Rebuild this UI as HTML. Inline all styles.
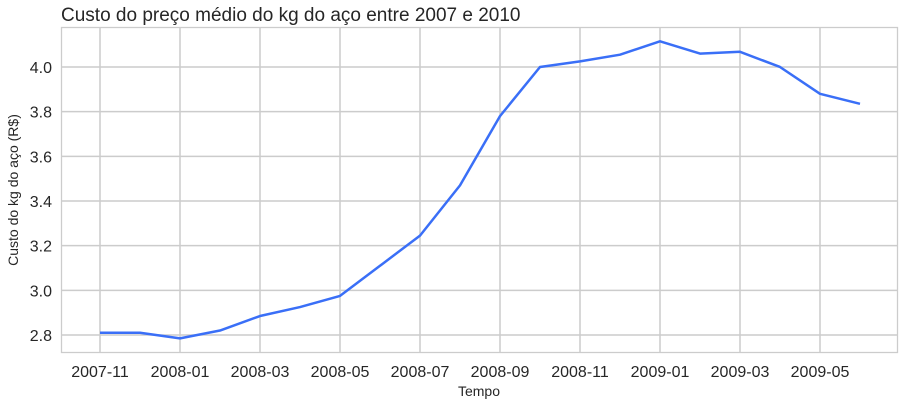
<!DOCTYPE html>
<html><head><meta charset="utf-8"><style>
body{margin:0;background:#fff;font-family:"Liberation Sans",Arial,sans-serif;}
svg text{font-family:"Liberation Sans",Arial,sans-serif;fill:#262626;}
</style></head><body>
<svg id="chart" width="905" height="406">
<text x="61" y="21" font-size="19">Custo do preço médio do kg do aço entre 2007 e 2010</text>
<rect x="61.5" y="27.5" width="836" height="325" fill="none" stroke="#cccccc" stroke-width="1.3"/>
<g id="grid"></g><g id="ticks"></g>
<text x="479" y="396" font-size="14" text-anchor="middle">Tempo</text>
<text transform="translate(18,190) rotate(-90)" font-size="14" text-anchor="middle">Custo do kg do aço (R$)</text>
<path id="line" fill="none" stroke="#3a6ff7" stroke-width="2.5" stroke-linejoin="round"/>
</svg>
<script>
const months = ["2007-11","2007-12","2008-01","2008-02","2008-03","2008-04","2008-05","2008-06","2008-07","2008-08","2008-09","2008-10","2008-11","2008-12","2009-01","2009-02","2009-03","2009-04","2009-05","2009-06"];
const prices = [2.81,2.81,2.785,2.82,2.885,2.925,2.975,3.11,3.245,3.47,3.78,4.0,4.025,4.055,4.115,4.06,4.068,4.0,3.88,3.835];
const yTicks = [2.8,3.0,3.2,3.4,3.6,3.8,4.0];
const xTickLabels = ["2007-11","2008-01","2008-03","2008-05","2008-07","2008-09","2008-11","2009-01","2009-03","2009-05"];
const ns="http://www.w3.org/2000/svg";
const x = i => 100 + i*40;
const y = v => 335 - (v-2.8)/0.2*44.67;
const grid=document.getElementById('grid'), ticks=document.getElementById('ticks');
yTicks.forEach(t=>{
  const l=document.createElementNS(ns,'line');
  
  
  l.setAttribute('x1',62);l.setAttribute('x2',897);l.setAttribute('y1',y(t));l.setAttribute('y2',y(t));
  l.setAttribute('stroke','#cccccc');l.setAttribute('stroke-width','1.5');grid.appendChild(l);
  const tx=document.createElementNS(ns,'text');
  
  
  tx.setAttribute('x',52);tx.setAttribute('y',y(t)+6);tx.setAttribute('text-anchor','end');tx.setAttribute('font-size','16');
  tx.textContent=t.toFixed(1);ticks.appendChild(tx);
});
xTickLabels.forEach(lbl=>{
  const i=months.indexOf(lbl);
  const l=document.createElementNS(ns,'line');
  
  
  l.setAttribute('x1',x(i));l.setAttribute('x2',x(i));l.setAttribute('y1',28);l.setAttribute('y2',352);
  l.setAttribute('stroke','#cccccc');l.setAttribute('stroke-width','1.5');grid.appendChild(l);
  const tx=document.createElementNS(ns,'text');
  
  
  tx.setAttribute('x',x(i));tx.setAttribute('y',377);tx.setAttribute('text-anchor','middle');tx.setAttribute('font-size','16');
  tx.textContent=lbl;ticks.appendChild(tx);
});
document.getElementById('line').setAttribute('d',prices.map((v,i)=>(i?'L':'M')+x(i)+','+y(v)).join(''));
</script>
</body></html>
